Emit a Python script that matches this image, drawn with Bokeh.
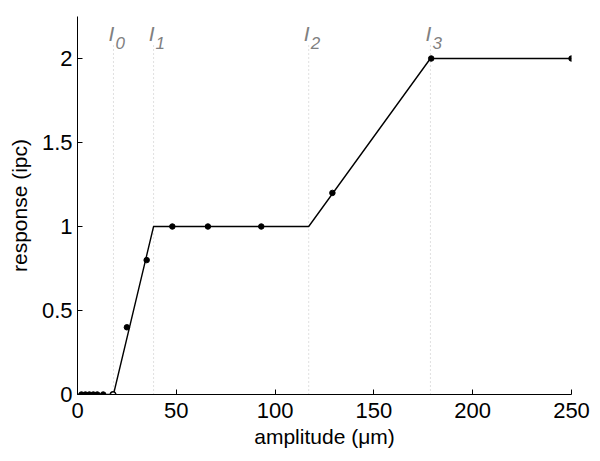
from bokeh.plotting import figure
from bokeh.embed import file_html
from bokeh.resources import INLINE
from bokeh.models import Range1d, FixedTicker, ColumnDataSource
from bokeh.core.properties import value

# measured points
amp = [2, 4, 6, 8, 10, 13, 25, 35, 48, 66, 93, 129, 179, 250]
resp = [0, 0, 0, 0, 0, 0, 0.4, 0.8, 1.0, 1.0, 1.0, 1.2, 2.0, 2.0]
open_amp = [18]
open_resp = [0]

# piecewise-linear model
model_x = [0, 18.2, 38.5, 117, 178.6, 250]
model_y = [0, 0, 1, 1, 2, 2]

# thresholds
thr_x = [18.2, 38.5, 117, 178.6]
thr_sub = ["0", "1", "2", "3"]
thr_top = 2.08
label_y = 2.15

x_ticks = [0, 50, 100, 150, 200, 250]
y_ticks = [0, 0.5, 1, 1.5, 2]

p = figure(width=600, height=461, output_backend="svg", toolbar_location=None,
           x_range=Range1d(0, 250), y_range=Range1d(0, 2.25),
           min_border_left=77, min_border_right=29, min_border_top=16, min_border_bottom=67)
p.outline_line_color = None
p.grid.visible = False
p.background_fill_color = "white"

# threshold dotted lines
p.segment(x0=thr_x, y0=[0]*4, x1=thr_x, y1=[thr_top]*4, line_color="#c0c0c0",
          line_dash="1 3", line_width=1)

p.line(model_x, model_y, line_color="black", line_width=1.4)
p.scatter(amp, resp, size=5.5, color="black")
p.scatter(open_amp, open_resp, size=5.5, fill_color="white", line_color="black", line_width=1.5)

src = ColumnDataSource(dict(x=thr_x, y=[label_y]*4, I=["I"]*4, s=thr_sub))
p.text(x="x", y="y", text="I", source=src, text_font=value("Liberation Sans"),
       text_font_style="italic", text_font_size="21px", text_color="#808080",
       text_align="center", text_baseline="alphabetic", x_offset=-2)
p.text(x="x", y="y", text="s", source=src, text_font=value("Liberation Sans"),
       text_font_style="italic", text_font_size="17px", text_color="#808080",
       text_align="left", text_baseline="alphabetic", x_offset=2, y_offset=10)

for ax in (p.xaxis[0], p.yaxis[0]):
    ax.major_tick_in = 5
    ax.major_tick_out = 0
    ax.minor_tick_line_color = None
    ax.axis_line_color = "black"
    ax.major_tick_line_color = "black"
    ax.major_label_text_font = "Liberation Sans"
    ax.major_label_text_font_size = "22px"
    ax.major_label_text_color = "black"
    ax.axis_label_text_font = "Liberation Sans"
    ax.axis_label_text_font_size = "21px"
    ax.axis_label_text_font_style = "normal"
    ax.axis_label_text_color = "black"

p.xaxis.ticker = FixedTicker(ticks=x_ticks)
p.yaxis.ticker = FixedTicker(ticks=y_ticks)
p.xaxis.major_label_standoff = 8
p.yaxis.major_label_standoff = 5
p.xaxis.axis_label = "amplitude (\u03bcm)"
p.yaxis.axis_label = "response (ipc)"
p.xaxis.axis_label_standoff = 4
p.yaxis.axis_label_standoff = 8
p.yaxis.major_label_orientation = "horizontal"

open("out.html", "w").write(file_html(p, INLINE))
